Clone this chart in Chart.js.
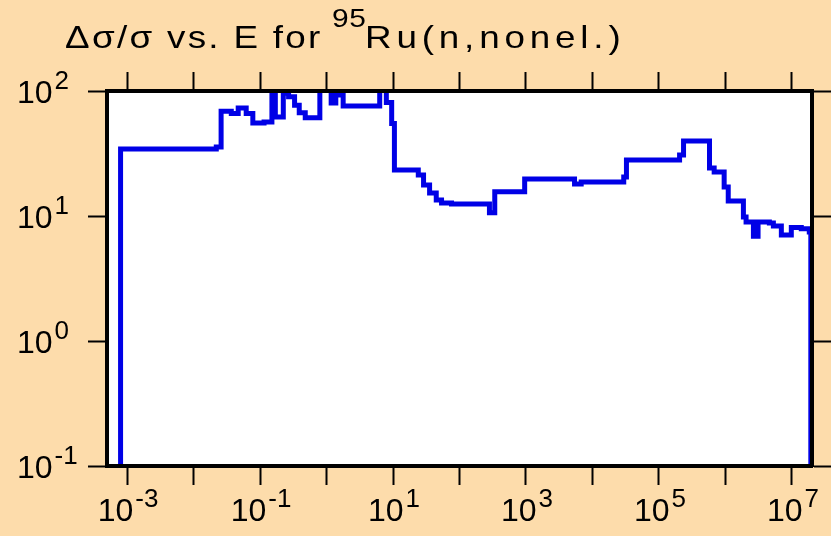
<!DOCTYPE html>
<html>
<head>
<meta charset="utf-8">
<script src="https://cdn.jsdelivr.net/npm/chart.js@4"></script>
<style>
  body { margin: 0; background: #fddcab; }
  #wrap { width: 831px; height: 536px; }
</style>
</head>
<body>
<div id="wrap"><canvas id="chart" width="831" height="536"></canvas></div>
<script>
// step data: each value holds from its energy up to the next energy
const energies = [
  8.0e-4, 8.0e-4, 2.2e-2, 2.6e-2, 3.7e-2, 4.7e-2, 6.2e-2, 7.8e-2,
  0.115, 0.151, 0.170, 0.224, 0.269, 0.331, 0.389, 0.479, 0.794,
  1.175, 1.38, 1.78, 6.31, 7.94, 9.55, 10.5, 24, 28.8, 35.5, 44.7,
  53.7, 75.9, 282, 339, 955, 5370, 6760, 2.95e4, 3.24e4, 2.04e5,
  2.34e5, 5.75e5, 6.76e5, 9.55e5, 1.10e6, 1.86e6, 2.04e6, 2.63e6,
  3.09e6, 4.57e6, 5.25e6, 6.92e6, 9.77e6, 1.38e7, 1.82e7, 1.92e7, 1.92e7
];
const values = [
  0.01, 34.4, 35.6, 69, 66, 73, 66, 55.5,
  56.5, 105, 62, 96, 90, 77, 67, 61, 105,
  80, 93, 76, 105, 81, 55, 23.3, 21.3, 17.7, 15.3, 13.4,
  12.7, 12.5, 10.6, 15.6, 19.8, 18.0, 18.7, 20.5, 28.1, 30.8,
  39.8, 24.2, 22.5, 17.1, 13.2, 9.8, 8.95, 6.9,
  8.95, 8.8, 8.3, 7.05, 8.1, 7.9, 7.45, 7.45, 0.01
];

const xTickValues = [1e-3, 1e-2, 1e-1, 1e0, 1e1, 1e2, 1e3, 1e4, 1e5, 1e6, 1e7];
const xLabelValues = [1e-3, 1e-1, 1e1, 1e3, 1e5, 1e7];
const xLabelExps = ["-3", "-1", "1", "3", "5", "7"];
const yTickValues = [1e-1, 1e0, 1e1, 1e2];
const yLabelExps = ["-1", "0", "1", "2"];

const BG = "#fddcab";
const FONT = '"Liberation Sans", Arial, sans-serif';

function drawPow(ctx, exp, x, y, align) {
  ctx.font = "32px " + FONT;
  const w1 = ctx.measureText("10").width;
  ctx.font = "26px " + FONT;
  const w2 = ctx.measureText(exp).width;
  const start = align === "center" ? x - (w1 + w2) / 2 : x;
  ctx.font = "32px " + FONT;
  ctx.fillText("10", start, y);
  ctx.font = "26px " + FONT;
  ctx.fillText(exp, start + w1 + 2, y - 14);
}

// the original title font is a bit wider than Arial, so stretch it
function wideText(ctx, text, x, y, size, spacing) {
  ctx.save();
  ctx.translate(x, y);
  ctx.scale(1.15, 1);
  ctx.font = size + "px " + FONT;
  ctx.letterSpacing = spacing + "px";
  ctx.fillText(text, 0, 0);
  ctx.restore();
}

const decor = {
  id: "decor",
  beforeDraw(chart) {
    const { ctx, chartArea: a } = chart;
    ctx.save();
    ctx.fillStyle = BG;
    ctx.fillRect(0, 0, chart.width, chart.height);
    ctx.fillStyle = "#ffffff";
    ctx.fillRect(a.left, a.top, a.right - a.left, a.bottom - a.top);
    ctx.restore();
  },
  afterDraw(chart) {
    const ctx = chart.ctx;
    ctx.save();
    ctx.fillStyle = "#000";
    ctx.textBaseline = "alphabetic";
    ctx.textAlign = "left";

    wideText(ctx, "\u0394\u03c3/\u03c3 vs. E for", 65, 48, 32, 2);
    wideText(ctx, "95", 332, 27, 26, 0.5);
    wideText(ctx, "Ru(n,nonel.)", 365, 48, 32, 4.2);

    const xs = chart.scales.x;
    xLabelValues.forEach((v, i) => {
      drawPow(ctx, xLabelExps[i], xs.getPixelForValue(v), 521, "center");
    });
    const ys = chart.scales.y;
    yTickValues.forEach((v, i) => {
      drawPow(ctx, yLabelExps[i], 17, ys.getPixelForValue(v) + 12, "left");
    });
    ctx.restore();
  }
};

function axis(position, min, max, tickValues, size) {
  const horizontal = position === "top" || position === "bottom";
  return {
    type: "logarithmic",
    position: position,
    min: min,
    max: max,
    afterBuildTicks: (s) => { s.ticks = tickValues.map(v => ({ value: v })); },
    afterFit: (s) => { if (horizontal) s.height = size; else s.width = size; },
    grid: { drawOnChartArea: false, drawTicks: true, tickLength: 19, tickWidth: 2, tickColor: "#000" },
    border: { display: true, width: 4, color: "#000", z: 1 },
    ticks: { display: false }
  };
}

new Chart(document.getElementById("chart"), {
  type: "line",
  data: {
    datasets: [{
      data: energies.map((e, i) => ({ x: e, y: values[i] })),
      borderColor: "#0000e6",
      borderWidth: 5,
      stepped: "before",
      pointRadius: 0,
      fill: false,
      borderJoinStyle: "miter"
    }]
  },
  options: {
    responsive: false,
    animation: false,
    devicePixelRatio: 1,
    layout: { padding: 0 },
    scales: {
      x: axis("bottom", 5e-4, 2e7, xTickValues, 70),
      x2: axis("top", 5e-4, 2e7, xTickValues, 91),
      y: axis("left", 0.1, 100, yTickValues, 107),
      y2: axis("right", 0.1, 100, yTickValues, 19)
    },
    plugins: { legend: { display: false }, tooltip: { enabled: false }, title: { display: false } }
  },
  plugins: [decor]
});
</script>
</body>
</html>
